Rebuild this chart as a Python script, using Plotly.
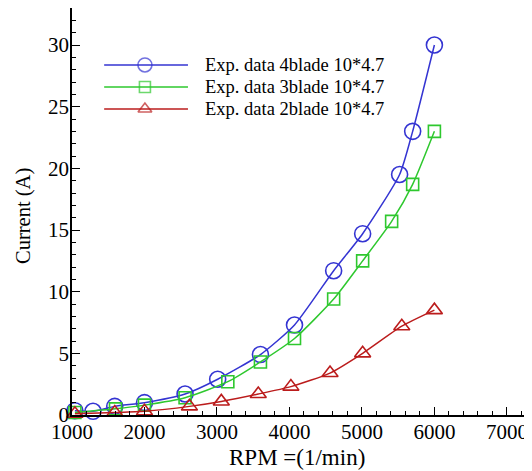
import plotly.graph_objects as go

# Data
rpm_4blade = [1040, 1290, 1590, 2000, 2560, 3010, 3600, 4070, 4610, 5010, 5520, 5700, 6000]
cur_4blade = [0.35, 0.3, 0.7, 1.0, 1.7, 2.9, 4.9, 7.3, 11.7, 14.7, 19.5, 23.0, 30.0]

rpm_3blade = [1040, 1600, 2000, 2560, 3150, 3600, 4070, 4610, 5010, 5410, 5700, 6000]
cur_3blade = [0.2, 0.5, 0.8, 1.4, 2.7, 4.3, 6.2, 9.4, 12.5, 15.7, 18.7, 23.0]

rpm_2blade = [1040, 1590, 2000, 2620, 3060, 3570, 4020, 4560, 5010, 5550, 6000]
cur_2blade = [0.1, 0.2, 0.3, 0.7, 1.1, 1.7, 2.3, 3.4, 5.0, 7.2, 8.5]

series_names = ["Exp. data 4blade 10*4.7", "Exp. data 3blade 10*4.7", "Exp. data 2blade 10*4.7"]
colors = ["#3434d2", "#2ec82e", "#bb1c1c"]
symbols = ["circle-open", "square-open", "triangle-up-open"]
sizes = [16, 12, 14]
legend_sizes = [14, 11, 12]

x_tick_vals = [1000, 2000, 3000, 4000, 5000, 6000, 7000]
y_tick_vals = [0, 5, 10, 15, 20, 25, 30]

x_title = "RPM =(1/min)"
y_title = "Current (A)"

FONT = "Liberation Serif, Times New Roman, serif"

fig = go.Figure()
data = [(rpm_4blade, cur_4blade), (rpm_3blade, cur_3blade), (rpm_2blade, cur_2blade)]
for (xs, ys), name, c, s, sz in zip(data, series_names, colors, symbols, sizes):
    fig.add_trace(go.Scatter(
        x=xs, y=ys, name=name, mode="lines+markers",
        line=dict(color=c, width=1.5, shape="spline", smoothing=0.6),
        marker=dict(symbol=s, size=sz, color=c, line=dict(color=c, width=1.6)),
        cliponaxis=False, showlegend=False,
    ))

# Custom legend drawn on an overlay axis (0..1)
leg_y = [0.860, 0.806, 0.752]
for name, c, s, sz, ly in zip(series_names, colors, symbols, legend_sizes, leg_y):
    fig.add_trace(go.Scatter(
        x=[0.071, 0.161, 0.256], y=[ly, ly, ly], mode="lines+markers",
        line=dict(color=c, width=1.5),
        marker=dict(symbol=s, size=[0, sz, 0], color=c, line=dict(color=c, width=1.6)),
        xaxis="x2", yaxis="y2", showlegend=False, hoverinfo="skip", cliponaxis=False,
    ))
    fig.add_annotation(x=0.289, y=ly, xref="x2", yref="y2", text=name,
                       showarrow=False, xanchor="left", yanchor="middle",
                       font=dict(family=FONT, size=18.5, color="black"))

# Axis titles as annotations (paper coordinates)
fig.add_annotation(x=0.497, y=-0.104, xref="paper", yref="paper", text=x_title,
                   showarrow=False, xanchor="center", yanchor="middle",
                   font=dict(family=FONT, size=23, color="black"))
fig.add_annotation(x=-0.106, y=0.489, xref="paper", yref="paper", text=y_title,
                   showarrow=False, textangle=-90, xanchor="center", yanchor="middle",
                   font=dict(family=FONT, size=20.5, color="black"))

axis_common = dict(showline=True, linecolor="black", linewidth=1.5, showgrid=False,
                   zeroline=False, ticks="inside", ticklen=8, tickwidth=1.2, tickcolor="black",
                   tickfont=dict(family=FONT, size=21, color="black"), mirror=False,
                   automargin=False, ticklabelstandoff=-3)

# The page body adds an 8px offset, so the figure is sized to fit the window
fig.update_layout(
    width=524, height=463,
    margin=dict(l=64, r=7, t=0, b=56),
    paper_bgcolor="white", plot_bgcolor="white",
    showlegend=False,
    xaxis=dict(range=[1000, 7250], tickvals=x_tick_vals, ticktext=[str(v) for v in x_tick_vals],
               minor=dict(dtick=200, tick0=1000, ticks="inside", ticklen=4, tickcolor="black", tickwidth=1),
               **axis_common),
    yaxis=dict(range=[0, 33], tickvals=y_tick_vals, ticktext=[str(v) for v in y_tick_vals],
               minor=dict(dtick=1, tick0=0, ticks="inside", ticklen=4, tickcolor="black", tickwidth=1),
               **axis_common),
    xaxis2=dict(range=[0, 1], overlaying="x", visible=False, fixedrange=True),
    yaxis2=dict(range=[0, 1], overlaying="y", visible=False, fixedrange=True),
)

fig.write_html("out.html")
